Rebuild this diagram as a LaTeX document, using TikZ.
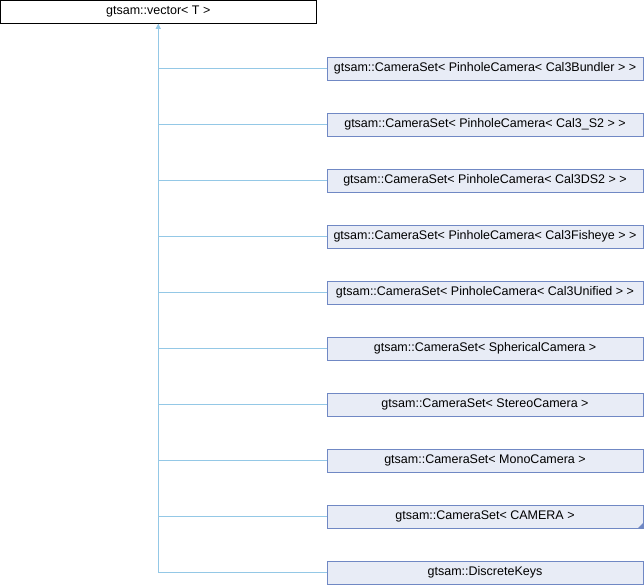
\documentclass[tikz,border=0pt]{standalone}
\usepackage{fontspec}
\setmainfont{Liberation Sans}
\usepackage{tikz}
\usetikzlibrary{arrows.meta,calc,positioning}
\definecolor{kante}{HTML}{94C8E6}
\definecolor{rahmen}{HTML}{7088C4}
\definecolor{fuellung}{HTML}{E8ECF6}

\begin{document}
\begin{tikzpicture}[x=1pt,y=-1pt,
  basis/.style={draw=black,fill=white,line width=1pt,minimum width=316pt,minimum height=23pt,inner sep=0pt,font=\fontsize{12.5}{15}\selectfont},
  klasse/.style={draw=rahmen,fill=fuellung,line width=1pt,minimum width=316pt,minimum height=23pt,inner sep=0pt,font=\fontsize{12.5}{15}\selectfont},
  erbt/.style={draw=kante,line width=1pt}]
%Kinder im Abstand von 56 px, erste Mitte bei 68.5
  \pgfmathsetmacro{\abstand}{56}
  \pgfmathsetmacro{\ersteY}{68.5}
\useasboundingbox (0,0) rectangle (644,584);
\node[basis] (vec) at (158.25,11.75) {gtsam::vector< T >};
\foreach \name [count=\i] in {gtsam::CameraSet< PinholeCamera< Cal3Bundler > >,gtsam::CameraSet< PinholeCamera< Cal3\_S2 > >,gtsam::CameraSet< PinholeCamera< Cal3DS2 > >,gtsam::CameraSet< PinholeCamera< Cal3Fisheye > >,gtsam::CameraSet< PinholeCamera< Cal3Unified > >,gtsam::CameraSet< SphericalCamera >,gtsam::CameraSet< StereoCamera >,gtsam::CameraSet< MonoCamera >,gtsam::CameraSet< CAMERA >,gtsam::DiscreteKeys}{
\pgfmathsetmacro{\yk}{\ersteY+\abstand*(\i-1)}
\node[klasse] (k\i) at (485,\yk) {\name};
\draw[erbt] (k\i.west) -| (vec.south);
}
\draw[erbt,-{Triangle[width=5pt,length=5pt]}] (k10.west) -| (vec.south);
\fill[rahmen] (k9.south east) -- ++(-6,0) -- ++(6,-6) -- cycle;
\end{tikzpicture}
\end{document}
